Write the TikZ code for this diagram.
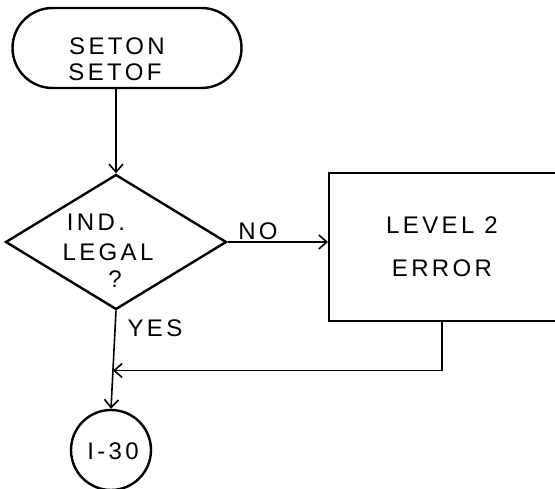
\documentclass[tikz,border=0pt]{standalone}
\usepackage{fontspec}
\setmainfont{Liberation Sans}
\usetikzlibrary{shapes.geometric,arrows.meta,calc}
\begin{document}
\begin{tikzpicture}[x=1pt,y=-1pt,
  shapeline/.style={draw, line width=2.4pt, inner sep=0pt},
  conn/.style={line width=1.6pt, -{Straight Barb[length=8pt,width=14pt,line width=1.6pt]}},
  lbl/.style={font=\fontsize{24}{26}\selectfont\addfontfeature{LetterSpace=14}, inner sep=0pt, align=center},
]
\useasboundingbox (0,0) rectangle (555,489);
\node[shapeline, rounded corners=40pt, minimum width=229pt, minimum height=80pt] (term) at (127,48) {};
\node[shapeline, diamond, minimum width=221pt, minimum height=135pt] (dia) at (116,242) {};
\node[shapeline, minimum width=240pt, minimum height=148pt, anchor=north west] (err) at (328,172) {};
\node[shapeline, circle, minimum size=80pt] (circ) at (111,450) {};

\node[lbl] (t1) at (117,46) {SETON};
\node[lbl] (t2) at (115,72) {SETOF};
\node[lbl] (d1) at (96,222) {IND.};
\node[lbl] (d2) at (108,252) {LEGAL};
\node[lbl] (d3) at (115,279) {?};
\node[lbl] (no) at (258,231) {NO};
\node[lbl] (yes) at (155,328) {YES};
\node[lbl] (e1) at (442,225) {LEVEL 2};
\node[lbl] (e2) at (442,268) {ERROR};
\node[lbl] (c1) at (113,451) {I-30};

\coordinate (j) at ($(dia.south)!0.61!(circ.north)$);
\draw[conn] (term.south -| dia.north) -- (dia.north);
\draw[conn] (dia.east) -- (err.west |- dia.east);
\draw[conn] (dia.south) -- (circ.north);
\draw[conn] ($(err.south west)+(114,0)$) |- (j);
\end{tikzpicture}
\end{document}
